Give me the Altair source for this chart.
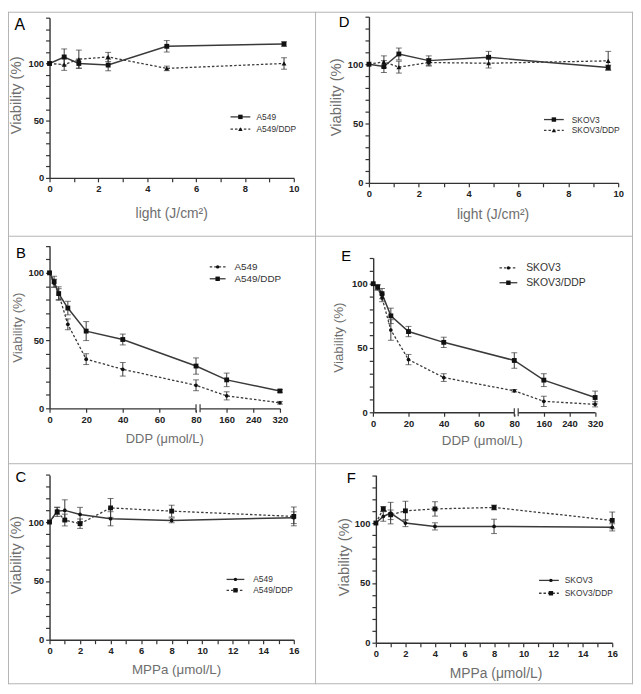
import altair as alt
import pandas as pd

# ---------------- data ----------------
light = [0, 0.6, 1.2, 2.4, 4.8, 9.6]
ddp = [0, 2.5, 5, 10, 20, 40, 80, 160, 320]
mppa = [0, 0.5, 1, 2, 4, 8, 16]

# Panel A (light, A549 cells)
A_a549 = [100, 105.7, 100, 98.6, 115, 117]
A_a549_err = [0, 7, 4, 5, 5, 2]
A_a549ddp = [100, 99, 103.7, 105.7, 95.7, 100]
A_a549ddp_err = [0, 5, 8, 4, 2, 5]

# Panel D (light, SKOV3 cells)
D_skov3 = [100, 98, 108.6, 103, 105.8, 97.2]
D_skov3_err = [0, 5, 5, 4, 5, 2]
D_skov3ddp = [100, 102, 97.5, 101.4, 100.8, 102.8]
D_skov3ddp_err = [0, 5, 5, 3, 4, 8]

# Panel B (DDP, A549 cells)
B_a549 = [100, 92.3, 84.3, 62, 36.3, 28.8, 17, 9.2, 4.1]
B_a549_err = [0, 3, 4, 4, 4, 5, 4, 3, 1]
B_a549ddp = [100, 93.5, 84.7, 74, 57, 50.8, 31.2, 21, 12.8]
B_a549ddp_err = [0, 4, 5, 5, 7, 4, 6, 5, 1]

# Panel E (DDP, SKOV3 cells)
E_skov3 = [100, 96.9, 89, 64, 41, 27, 16.7, 8.5, 6.2]
E_skov3_err = [0, 2, 3, 8, 4, 3, 1, 4, 2]
E_skov3ddp = [100, 97.4, 92.3, 75, 62.8, 54.4, 40.3, 25, 11.5]
E_skov3ddp_err = [0, 2, 4, 6, 4, 4, 6, 5, 5]

# Panel C (MPPa, A549 cells)
C_a549 = [100, 109.3, 109.9, 106.5, 102.8, 101.4, 103.7]
C_a549_err = [0, 3, 9, 6, 6, 2, 5]
C_a549ddp = [100, 108.7, 101.7, 98.6, 112, 109.3, 104.8]
C_a549ddp_err = [0, 4, 5, 4, 8, 5, 8]

# Panel F (MPPa, SKOV3 cells)
F_skov3 = [100, 105.5, 108.3, 100, 97.2, 97.2, 96.4]
F_skov3_err = [0, 4, 9, 3, 3, 6, 3]
F_skov3ddp = [100, 111.8, 106.9, 110.2, 111.8, 113, 102.2]
F_skov3ddp_err = [0, 2, 4, 8, 6, 2, 7]

# ---------------- layout helpers ----------------
W_TOTAL, H_TOTAL = 632, 680
FONT = "Liberation Sans"
LINE = "#3a3a3a"
MARK = "#111111"
BORDER = "#b4b4b4"
DASH = [2.5, 2]

GAP = 2.2      # broken-axis gap (in axis units)
K = 0.1818     # compression of the 80-320 segment
U_MAX = 80 + GAP + 240 * K
BROKEN_VALUES = [0, 20, 40, 60, 80] + [80 + GAP + (v - 80) * K for v in (160, 240, 320)]
BROKEN_EXPR = ("datum.value <= 80.5 ? datum.label : "
               f"format(round(80 + (datum.value - {GAP}) / {K} - 80 + 80 - 0), 'd')")
BROKEN_EXPR = ("datum.value <= 80.5 ? datum.label : "
               f"format(round(80 + (datum.value - 80 - {GAP}) / {K}), 'd')")

one = pd.DataFrame({"k": [0]})


def y_axis(top, left, tx, ty, tsize):
    return alt.Axis(orient="left", offset=-left, values=list(range(0, top + 1, 10)),
                    labelExpr="datum.value % 50 === 0 ? datum.label : ''",
                    title="Viability (%)", titleX=tx, titleY=ty, titleAngle=270,
                    titleAlign="center", titleBaseline="middle", titleFontSize=tsize,
                    grid=False, labelOverlap=False, labelBound=False, labelFlush=False)


def x_axis(bottom, values, expr, title, tx, ty, tsize):
    return alt.Axis(orient="bottom", offset=bottom - H_TOTAL, values=values, labelExpr=expr,
                    title=title, titleX=tx, titleY=ty, titleAngle=0,
                    titleAlign="center", titleBaseline="middle", titleFontSize=tsize,
                    grid=False, labelOverlap=False, labelBound=False, labelFlush=False)


def panel(xs, series, xdom, xr, ydom, yr, xaxis, yaxis, broken=False):
    xscale = alt.Scale(domain=xdom, range=xr, nice=False, zero=False)
    yscale = alt.Scale(domain=ydom, range=yr, nice=False, zero=False)
    xfield = "u:Q" if broken else "x:Q"
    X = alt.X(xfield, scale=xscale, axis=xaxis)
    lines, bars, pts = [], [], []
    for s in series:
        df = pd.DataFrame({"x": xs, "v": s["vals"], "err": s["errs"]})
        base = alt.Chart(df)
        if broken:
            base = base.transform_calculate(
                u=f"datum.x <= 80 ? datum.x : 80 + {GAP} + (datum.x - 80) * {K}")
        Yv = alt.Y("v:Q", scale=yscale, axis=yaxis)
        kw = dict(color=LINE, strokeWidth=1.5 if not s["dash"] else 1.3)
        if s["dash"]:
            kw["strokeDash"] = DASH
        lines.append(base.mark_line(**kw).encode(x=X, y=Yv))
        eb = base.transform_filter("datum.err > 0").transform_calculate(
            lo="datum.v - datum.err", hi="datum.v + datum.err")
        bars.append(eb.mark_rule(color=LINE, strokeWidth=1).encode(
            x=X, y=alt.Y("lo:Q", scale=yscale, axis=yaxis), y2="hi:Q"))
        for f in ("lo", "hi"):
            bars.append(eb.mark_tick(orient="horizontal", size=6, thickness=1, color=LINE).encode(
                x=X, y=alt.Y(f"{f}:Q", scale=yscale, axis=yaxis)))
        pts.append(base.mark_point(shape=s["shape"], filled=True, size=s["size"],
                                   color=MARK, opacity=1).encode(x=X, y=Yv))
    extra = []
    if broken:
        yb = yr[0]
        bdf = pd.DataFrame({"a": [80.0], "b": [80.0 + GAP]})
        bc = alt.Chart(bdf)
        extra.append(bc.mark_rect(color="white").encode(
            x=alt.X("a:Q", scale=xscale, axis=xaxis), x2="b:Q",
            y=alt.value(yb - 2), y2=alt.value(yb + 2)))
        for f in ("a", "b"):
            extra.append(bc.mark_rule(color=LINE, strokeWidth=1.2).encode(
                x=alt.X(f"{f}:Q", scale=xscale, axis=xaxis),
                y=alt.value(yb - 4), y2=alt.value(yb + 4)))
    return alt.layer(*(lines + bars + pts + extra))


def legend(entries, x1, x2, mx, ys, tx, fs):
    out = []
    for (label, dash, shape, size), y in zip(entries, ys):
        kw = dict(color=LINE, strokeWidth=1.3)
        if dash:
            kw["strokeDash"] = DASH
        out.append(alt.Chart(one).mark_rule(**kw).encode(
            x=alt.value(x1), x2=alt.value(x2), y=alt.value(y)))
        out.append(alt.Chart(one).mark_point(shape=shape, filled=True, size=size,
                                             color=MARK, opacity=1).encode(
            x=alt.value(mx), y=alt.value(y)))
        out.append(alt.Chart(one).mark_text(text=label, font=FONT, fontSize=fs, color="#333",
                                            align="left", baseline="middle").encode(
            x=alt.value(tx), y=alt.value(y)))
    return out


def letter(ch, x, y, fs):
    return alt.Chart(one).mark_text(text=ch, font=FONT, fontSize=fs, color="black",
                                    align="center", baseline="middle").encode(
        x=alt.value(x), y=alt.value(y))


def hline(y):
    return alt.Chart(one).mark_rule(color=BORDER, strokeWidth=1).encode(
        x=alt.value(0), x2=alt.value(W_TOTAL), y=alt.value(y))


def vline(x):
    return alt.Chart(one).mark_rule(color=BORDER, strokeWidth=1).encode(
        x=alt.value(x), y=alt.value(0), y2=alt.value(H_TOTAL))


SQ, TRI, DOT = "square", "triangle-up", "circle"
ODD2 = "datum.value % 2 === 0 ? datum.label : ''"

pA = panel(light, [
    dict(vals=A_a549, errs=A_a549_err, dash=False, shape=SQ, size=24),
    dict(vals=A_a549ddp, errs=A_a549ddp_err, dash=True, shape=TRI, size=24)],
    [0, 10], [42, 289], [0, 140], [168, 6],
    x_axis(168, list(range(0, 11)), ODD2, "light (J/cm²)", 165, 36, 14),
    y_axis(140, 42, -34, 84, 15))

pD = panel(light, [
    dict(vals=D_skov3, errs=D_skov3_err, dash=False, shape=SQ, size=24),
    dict(vals=D_skov3ddp, errs=D_skov3ddp_err, dash=True, shape=TRI, size=24)],
    [0, 10], [365, 617], [0, 140], [173, 5],
    x_axis(173, list(range(0, 11)), ODD2, "light (J/cm²)", 490, 32, 14),
    y_axis(140, 365, -34, 86, 15))

pB = panel(ddp, [
    dict(vals=B_a549, errs=B_a549_err, dash=True, shape=DOT, size=14),
    dict(vals=B_a549ddp, errs=B_a549ddp_err, dash=False, shape=SQ, size=24)],
    [0, U_MAX], [42, 275], [0, 120], [401, 236.6],
    x_axis(401, BROKEN_VALUES, BROKEN_EXPR, "DDP (μmol/L)", 158, 31, 13),
    y_axis(120, 42, -32.5, 319, 13.5), broken=True)

pE = panel(ddp, [
    dict(vals=E_skov3, errs=E_skov3_err, dash=True, shape=DOT, size=14),
    dict(vals=E_skov3ddp, errs=E_skov3ddp_err, dash=False, shape=SQ, size=24)],
    [0, U_MAX], [369.3, 593.7], [0, 120], [405, 249],
    x_axis(405, BROKEN_VALUES, BROKEN_EXPR, "DDP (μmol/L)", 479, 29, 13.5),
    y_axis(120, 369.3, -35, 329, 13.5), broken=True)

pC = panel(mppa, [
    dict(vals=C_a549, errs=C_a549_err, dash=False, shape=DOT, size=14),
    dict(vals=C_a549ddp, errs=C_a549ddp_err, dash=True, shape=SQ, size=24)],
    [0, 16], [42, 289], [0, 140], [635, 468.4],
    x_axis(635, list(range(0, 17)), ODD2, "MPPa (μmol/L)", 170, 30, 13.5),
    y_axis(140, 42, -34, 549, 15))

pF = panel(mppa, [
    dict(vals=F_skov3, errs=F_skov3_err, dash=False, shape=DOT, size=14),
    dict(vals=F_skov3ddp, errs=F_skov3ddp_err, dash=True, shape=SQ, size=24)],
    [0, 16], [372, 611], [0, 140], [638, 468.6],
    x_axis(638, list(range(0, 17)), ODD2, "MPPa (μmol/L)", 493, 31, 14),
    y_axis(140, 372, -33, 551, 15))

deco = []
deco += [vline(0.5), vline(311), vline(631.5), hline(0.5), hline(227), hline(457), hline(679.5)]
deco += [letter("A", 12, 13, 16), letter("D", 340, 10, 15), letter("B", 13, 244, 15),
         letter("E", 342, 247, 15), letter("C", 13, 471, 15), letter("F", 347, 472, 15)]
deco += legend([("A549", False, SQ, 20), ("A549/DDP", True, TRI, 20)],
               225, 245, 235, [106.3, 118.7], 251.3, 8.5)
deco += legend([("SKOV3", False, SQ, 20), ("SKOV3/DDP", True, TRI, 20)],
               542, 562, 552, [109, 120], 570, 8.5)
deco += legend([("A549", True, DOT, 12), ("A549/DDP", False, SQ, 20)],
               204, 220, 212, [258, 270], 229, 10)
deco += legend([("SKOV3", True, DOT, 12), ("SKOV3/DDP", False, SQ, 20)],
               497, 515, 506, [259, 274], 524, 10.5)
deco += legend([("A549", False, DOT, 12), ("A549/DDP", True, SQ, 20)],
               221, 239, 230, [574, 585], 248, 8.5)
deco += legend([("SKOV3", False, DOT, 12), ("SKOV3/DDP", True, SQ, 20)],
               537, 557, 549, [575, 588], 563, 8.5)

chart = alt.layer(pA, pD, pB, pE, pC, pF, *deco).resolve_scale(
    x="independent", y="independent"
).properties(
    width=W_TOTAL, height=H_TOTAL, padding=0,
    autosize=alt.AutoSizeParams(type="none"),
    background="white",
).configure_view(stroke=None).configure_axis(
    labelFont=FONT, labelFontWeight="bold", labelFontSize=9.5, labelColor="#222",
    titleFont=FONT, titleFontWeight="normal", titleColor="#6e6e6e",
    domainColor="#333", domainWidth=1.4, tickColor="#333", tickWidth=1.2,
    tickSize=4, labelPadding=2,
)

chart.save("out.html", embed_options={"renderer": "svg", "actions": False})
